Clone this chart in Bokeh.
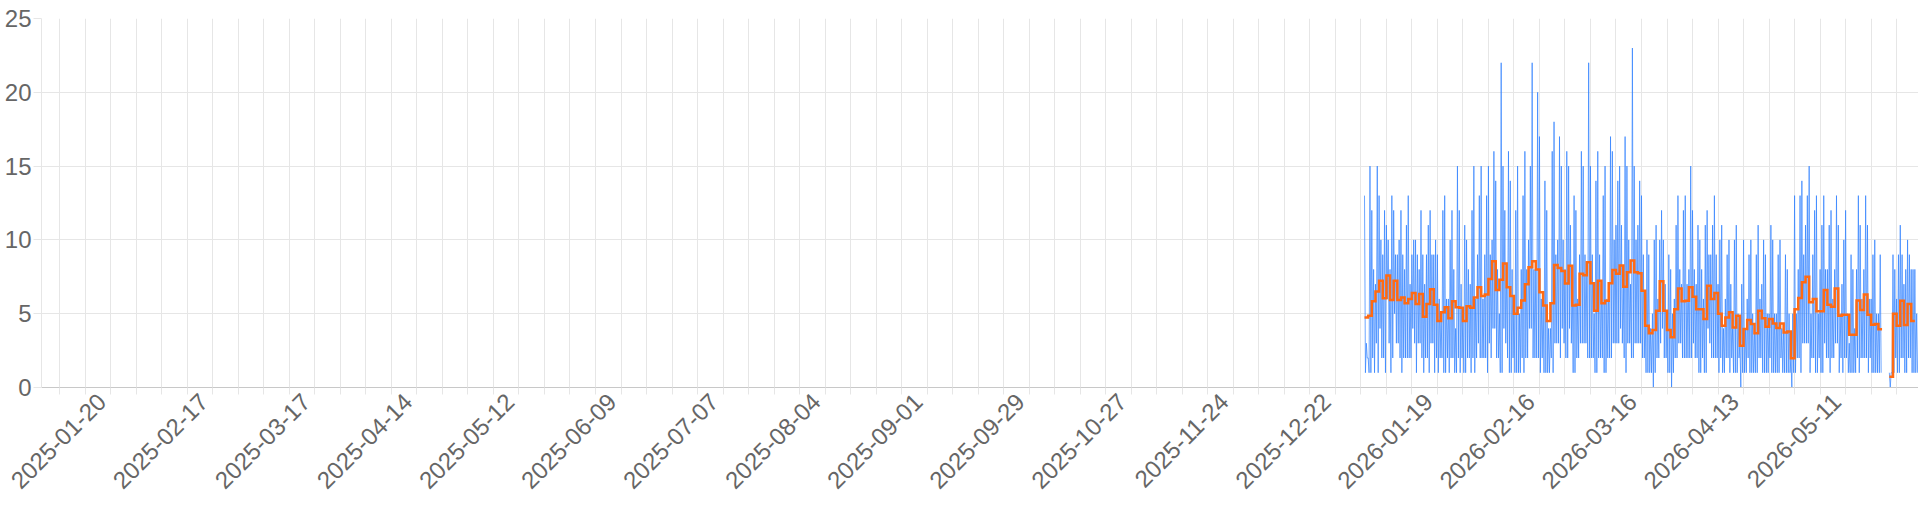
import numpy as np
import pandas as pd
from math import pi
from bokeh.plotting import figure
from bokeh.models import Range1d, FixedTicker, DatetimeTickFormatter
from bokeh.embed import file_html
from bokeh.resources import INLINE

# ---------------- data ----------------
# axis extent and ticks
x_start = "2025-01-01"
x_end = "2026-05-31"
week_tick_start = "2025-01-06"
week_tick_end = "2026-05-25"
label_tick_start = "2025-01-20"
y_ticks = [0, 5, 10, 15, 20, 25]

# orange: daily mean (one value per day)
daily_start_1 = "2025-12-30"
daily_mean_1 = [
    4.75, 4.86, 5.84, 6.5, 7.24, 6.04, 7.58, 5.93, 7.24, 5.93,
    6.1, 5.7, 6.0, 6.4, 5.66, 6.33, 4.8, 5.66, 6.65, 5.6,
    4.5, 5.1, 5.43, 4.7, 5.84, 5.43, 5.4, 4.5, 5.5, 5.4,
    6.1, 6.8, 6.2, 6.3, 7.35, 8.55, 6.6, 7.3, 8.4, 6.8,
    6.2, 5.0, 5.4, 5.9, 7.0, 8.15, 8.55, 8.0, 6.45, 5.55,
    4.5, 5.7, 8.3, 8.1, 7.9, 7.05, 8.25, 5.55, 5.6, 7.7,
    7.6, 8.48, 7.06, 5.2, 7.24, 5.7, 5.88, 7.06, 7.96, 7.7,
    8.26, 6.83, 7.8, 8.6, 7.8, 7.74, 6.56, 4.19, 3.67, 3.9,
    5.2, 7.2, 5.2, 3.9, 3.4, 5.3, 6.7, 5.84, 5.88, 6.8,
    6.15, 5.3, 5.3, 4.64, 6.9, 6.0, 6.4, 5.0, 4.19, 4.75,
    5.1, 4.07, 4.86, 2.83, 3.96, 4.57, 4.3, 3.67, 5.2, 4.7,
    4.12, 4.64, 4.34, 4.03, 4.34, 3.73, 3.8, 1.99, 5.3, 6.06,
    7.13, 7.5, 5.77, 6.0, 5.16, 5.16, 6.6, 5.6, 5.47, 6.7,
    4.86, 4.93, 4.93, 3.57, 3.57, 5.9, 5.25, 6.3, 4.93, 4.25,
    4.3, 3.94,
]
daily_start_2 = "2026-05-23"
daily_mean_2 = [0.72, 5.0, 4.19, 5.88, 4.23, 5.66, 4.5]

# blue: 6-hourly samples
sample_start_1 = "2025-12-30"
samples_1 = [
    13,1,3,2, 2,1,15,1, 12,2,8,1, 7,3,15,1,
    13,4,10,2, 9,2,12,1, 11,6,10,3, 8,1,13,2,
    12,5,9,3, 9,3,10,2, 12,1,9,2, 8,2,11,2,
    13,2,7,2, 9,4,10,3, 10,1,9,3, 8,3,12,2,
    9,1,7,2, 9,2,11,1, 12,3,9,3, 9,1,10,2,
    9,1,6,2, 5,2,12,1, 13,1,6,2, 6,1,10,2,
    12,2,8,1, 4,1,15,2, 12,1,7,2, 5,1,11,1,
    10,2,8,2, 7,1,12,2, 15,1,6,2, 9,3,13,2,
    15,2,6,2, 9,2,13,1, 15,3,9,2, 10,4,16,4,
    14,2,8,2, 5,1,22,1, 15,4,12,3, 8,2,16,1,
    14,1,8,2, 6,1,12,1, 15,1,5,1, 8,2,13,1,
    16,2,8,2, 10,4,15,4, 22,2,8,2, 8,2,20,2,
    17,1,6,2, 6,1,14,1, 12,1,4,1, 4,2,16,1,
    18,3,9,3, 10,3,17,2, 15,4,10,3, 8,2,16,2,
    15,4,11,3, 7,1,13,1, 12,2,6,2, 9,3,16,3,
    15,3,9,3, 8,2,22,2, 15,2,9,2, 5,1,14,1,
    16,2,9,2, 7,2,13,1, 15,1,6,2, 7,2,17,2,
    16,3,10,3, 11,3,14,3, 15,4,11,3, 7,2,17,1,
    15,3,10,3, 7,2,23,2, 15,3,10,3, 11,3,14,3,
    13,2,9,2, 5,1,10,1, 9,1,4,1, 5,0,10,1,
    11,2,6,2, 10,3,12,4, 10,2,7,2, 5,1,9,1,
    8,0,5,1, 6,2,11,2, 13,3,8,3, 7,2,12,2,
    13,2,7,2, 8,2,15,2, 12,3,8,2, 7,2,11,1,
    10,1,8,2, 6,1,11,1, 12,4,9,3, 9,2,11,2,
    13,2,9,2, 7,1,10,2, 11,1,4,1, 6,2,9,2,
    10,1,7,2, 4,1,10,1, 11,1,5,2, 3,0,7,1,
    10,1,4,1, 6,2,9,1, 10,1,5,1, 4,1,9,1,
    11,2,6,2, 7,1,10,1, 9,1,5,1, 5,2,11,1,
    10,1,5,1, 5,1,9,1, 10,2,4,1, 4,1,9,1,
    8,1,5,1, 2,0,5,1, 13,1,5,2, 8,2,13,1,
    14,3,9,3, 11,3,13,3, 15,1,5,2, 9,2,12,1,
    13,1,5,2, 8,1,11,1, 13,3,8,2, 8,2,11,1,
    12,2,6,2, 8,3,13,3, 11,1,5,2, 7,1,10,2,
    12,2,5,1, 3,1,9,1, 8,1,4,1, 8,2,13,1,
    11,2,6,2, 8,2,13,2, 11,1,6,2, 6,1,9,1,
    10,1,5,1, 5,1,9,1,
]
sample_start_2 = "2026-05-23"
samples_2 = [1,0,1,1, 9,1,8,2, 6,1,9,1, 11,2,9,2, 7,1,8,1, 10,2,9,2, 8,1,8,1, 8,1,5,1]

# ---------------- styling ----------------
GRID = "#e6e6e6"
AXIS0 = "#c8c8c8"
TEXT = "#666666"
FONT = "Liberation Sans"
FSIZE = "24px"
BLUE = "#2f80ff"
ORANGE = "#ff6a13"
FIG_W, FIG_H = 1918, 510
BORDER_L = 41
LABEL_SHIFT_PX = 9   # rotated labels end slightly left of their tick


def ms(s):
    return float(np.datetime64(s, "ms").astype("int64"))


def step_xy(start, vals):
    xs = pd.date_range(start, periods=len(vals) + 1, freq="D")
    return xs, list(vals) + [vals[-1]]


x0, x1 = ms(x_start), ms(x_end)
week_ticks = pd.date_range(week_tick_start, week_tick_end, freq="7D")
label_ticks = pd.date_range(label_tick_start, week_tick_end, freq="28D")
week_ms = [float(v) for v in (week_ticks.asi8 // 1_000_000)]
label_ms = [float(v) for v in (label_ticks.asi8 // 1_000_000)]
label_text = [d.strftime("%Y-%m-%d") for d in label_ticks]

shift_ms = LABEL_SHIFT_PX * (x1 - x0) / (FIG_W - BORDER_L)
label_pos = [float(round(t - shift_ms)) for t in label_ms]

p = figure(
    width=FIG_W, height=FIG_H, x_axis_type="datetime",
    output_backend="svg", toolbar_location=None,
    x_range=Range1d(x0, x1), y_range=Range1d(0, 25),
    min_border_left=BORDER_L, min_border_right=0, min_border_top=18, min_border_bottom=123,
)
p.outline_line_color = None
p.background_fill_color = "white"
p.border_fill_color = "white"

# x axis: weekly tick marks/grid (minor), labels every 4 weeks (major, marks hidden)
xa = p.xaxis[0]
xa.ticker = FixedTicker(ticks=label_pos, minor_ticks=week_ms)
fmt = "%Y-%m-%d"
xa.formatter = DatetimeTickFormatter(days=fmt, months=fmt, years=fmt, hours=fmt,
                                     hourmin=fmt, minutes=fmt, minsec=fmt, seconds=fmt,
                                     milliseconds=fmt, microseconds=fmt)
xa.major_label_overrides = {pos: txt for pos, txt in zip(label_pos, label_text)}
xa.major_label_orientation = pi / 4
xa.major_tick_in = 0
xa.major_tick_out = 7
xa.minor_tick_in = 0
xa.minor_tick_out = 7
xa.major_tick_line_color = None
xa.minor_tick_line_color = GRID
xa.axis_line_color = AXIS0
xa.major_label_standoff = 3
xa.major_label_text_font = FONT
xa.major_label_text_font_size = FSIZE
xa.major_label_text_color = TEXT

p.xgrid.grid_line_color = None
p.xgrid.minor_grid_line_color = GRID

# y axis
ya = p.yaxis[0]
ya.ticker = FixedTicker(ticks=y_ticks)
ya.major_tick_in = 0
ya.major_tick_out = 8
ya.major_tick_line_color = GRID
ya.minor_tick_line_color = None
ya.axis_line_color = GRID
ya.major_label_standoff = 2
ya.major_label_text_font = FONT
ya.major_label_text_font_size = FSIZE
ya.major_label_text_color = TEXT
p.ygrid.grid_line_color = GRID

# blue samples
for start, vals in ((sample_start_1, samples_1), (sample_start_2, samples_2)):
    t = pd.date_range(start, periods=len(vals), freq="6h")
    p.line(x=t, y=vals, line_color=BLUE, line_width=1, line_alpha=0.7)

# orange daily mean
for start, vals in ((daily_start_1, daily_mean_1), (daily_start_2, daily_mean_2)):
    xs, ys = step_xy(start, vals)
    p.step(x=xs, y=ys, mode="after", line_color=ORANGE, line_width=2.5, line_join="miter")

open("out.html", "w").write(file_html(p, INLINE))
